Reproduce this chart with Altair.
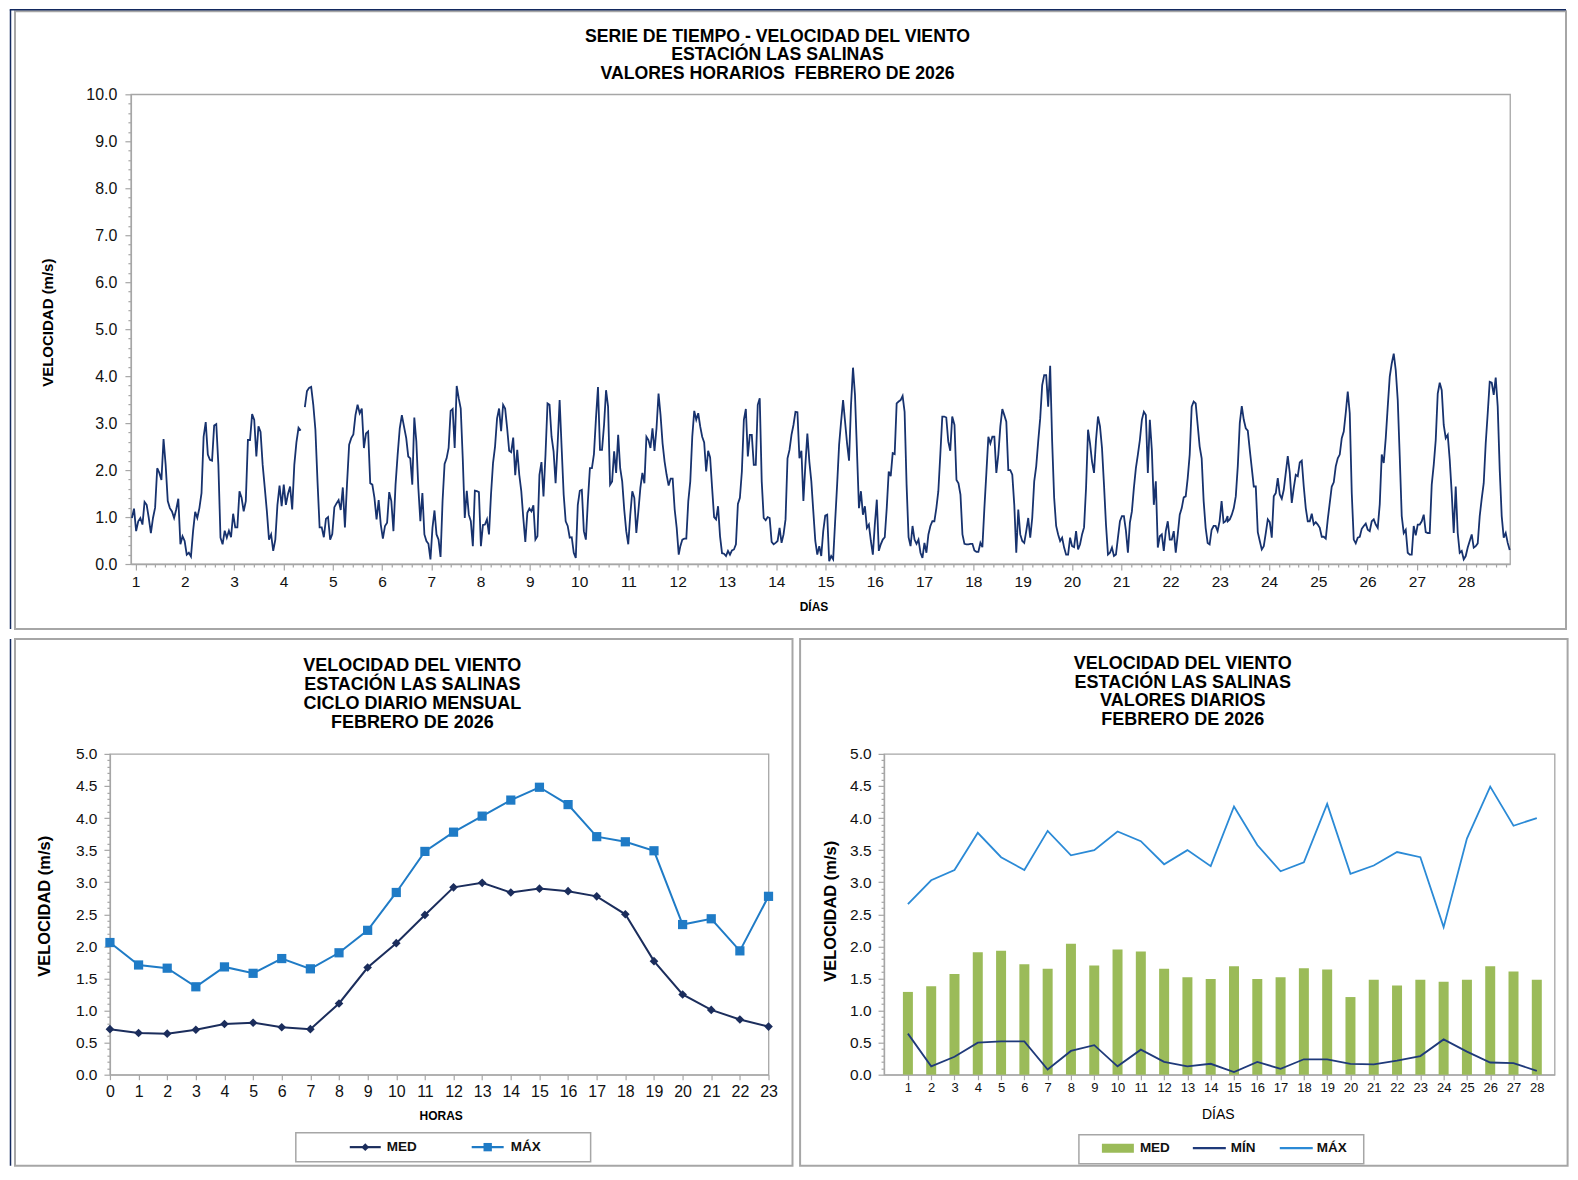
import altair as alt
import numpy as np
import pandas as pd

FONT = "Liberation Sans"
GRAY = "#a6a6a6"
FRAME_NAVY = "#13295e"
LINE_NAVY = "#17326e"
MED_NAVY = "#1b2d5c"
MAX_BLUE = "#1f7bc6"
MIN_NAVY = "#1f3a7a"
MAX_LIGHT = "#2b8ad6"
GREEN = "#9bbb59"

# ---------------- hourly series (in 5 stretches) ----------------
seg1 = [0.98, 1.18, 0.70, 0.91, 0.98, 0.84, 1.32, 1.26, 0.98, 0.66,
        0.98, 1.20, 2.04, 1.94, 1.79, 2.66, 2.11, 1.34, 1.19, 1.12,
        0.98, 1.16, 1.39, 0.42, 0.59, 0.49, 0.20, 0.24, 0.16, 0.70,
        1.11, 0.98, 1.19, 1.51, 2.71, 3.02, 2.33, 2.22, 2.20, 2.95,
        2.98, 2.11, 0.56, 0.42, 0.71, 0.56, 0.71, 0.57, 1.07, 0.78,
        0.78, 1.55, 1.41, 1.12, 1.34, 2.64, 2.64, 3.19, 3.07, 2.29,
        2.93, 2.81, 2.11, 1.62, 1.12, 0.52, 0.63, 0.28, 0.52, 1.26,
        1.67, 1.23, 1.69, 1.26, 1.49, 1.65, 1.16, 2.11, 2.59, 2.90,
        2.84, None, 3.34, 3.68, 3.75, 3.77, 3.39, 2.86, 1.76, 0.78,
        0.78, 0.57, 0.96, 1.00, 0.52, 0.64, 1.21, 1.29, 1.36, 1.15,
        1.63, 0.78, 1.71, 2.54, 2.68, 2.76, 3.17, 3.39, 3.21, 3.31,
        2.47, 2.78, 2.82, 1.72, 1.69, 1.41, 0.95, 1.36, 0.84, 0.54,
        0.81, 0.88, 1.53, 1.34, 0.70, 1.69, 2.33, 2.89, 3.17, 2.93]
seg2 = [2.68, 2.29, 2.25, 1.69, 3.12, 2.61, 1.62, 0.91, 1.51, 0.63,
        0.49, 0.43, 0.10, 0.77, 1.14, 0.63, 0.52, 0.15, 1.34, 2.13,
        2.25, 2.47, 3.26, 3.30, 2.47, 3.79, 3.53, 3.31, 2.25, 0.98,
        1.56, 1.05, 0.91, 0.38, 1.56, 1.55, 1.53, 0.38, 0.83, 0.84,
        0.95, 0.63, 1.48, 2.15, 2.50, 3.10, 3.31, 2.83, 3.39, 3.31,
        2.89, 2.41, 2.38, 2.69, 1.89, 2.43, 1.90, 1.55, 0.98, 0.47,
        1.09, 1.18, 1.12, 1.25, 0.52, 0.59, 1.90, 2.17, 1.44, 2.33,
        3.42, 3.39, 2.71, 2.40, 1.72, 2.54, 3.49, 2.47, 1.48, 0.91,
        0.81, 0.56, 0.57, 0.24, 0.13, 1.26, 1.56, 1.58, 0.70, 0.52,
        1.34, 2.04, 2.04, 2.34, 3.10, 3.77, 2.43, 2.43, 2.96, 3.70,
        3.35, 1.69, 1.76, 2.40, 1.94, 2.75, 2.04, 1.76, 1.16, 0.70,
        0.42, 1.05, 1.55, 1.41, 0.66, 1.12, 1.62, 1.94, 1.72, 2.71,
        2.64, 2.47, 2.89, 2.41, 2.89, 3.63, 3.17, 2.57, 2.18, 1.90,
        1.67, 1.82, 1.82, 1.16, 0.77, 0.20]
seg3 = [0.38, 0.52, 0.54, 0.54, 1.34, 1.76, 2.71, 3.26, 3.07, 3.21,
        2.93, 2.71, 2.59, 1.97, 2.41, 2.27, 1.62, 1.00, 0.95, 1.23,
        0.59, 0.23, 0.22, 0.17, 0.28, 0.20, 0.29, 0.31, 0.42, 1.28,
        1.41, 1.97, 3.07, 3.30, 2.29, 2.75, 2.75, 2.11, 2.11, 3.39,
        3.53, 1.76, 0.98, 0.93, 1.00, 0.98, 0.47, 0.42, 0.45, 0.49,
        0.77, 0.45, 0.63, 0.95, 2.25, 2.43, 2.75, 2.96, 3.24, 3.23,
        2.25, 2.41, 1.34, 2.11, 2.78, 2.18, 1.76, 1.12, 0.49, 0.20,
        0.38, 0.17, 0.70, 1.03, 1.05, 0.06, 0.17, 0.10, 0.91, 1.69,
        2.54, 3.03, 3.49, 3.03, 2.57, 2.20, 3.39, 4.18, 3.60, 2.40,
        1.19, 1.55, 1.05, 1.23, 0.77, 0.84, 0.49, 0.20, 0.84, 1.37,
        0.28, 0.42, 0.52, 0.57, 1.19, 1.97, 1.87, 2.36, 2.34, 3.42,
        3.46, 3.49, 3.58, 3.24, 1.69, 0.57, 0.38, 0.81, 0.52, 0.43,
        0.52, 0.24, 0.13, 0.45, 0.24, 0.63, 0.81, 0.91, 0.91, 1.19,
        1.55, 2.33, 3.14, 3.14, 3.12, 2.61, 2.41, 3.14]
seg4 = [2.96, 1.79, 1.72, 1.48, 0.63, 0.43, 0.42, 0.42, 0.43, 0.43,
        0.29, 0.26, 0.26, 0.45, 0.36, 1.19, 1.94, 2.71, 2.57, 2.71,
        2.71, 1.94, 2.33, 2.93, 3.30, 3.17, 3.03, 2.00, 2.00, 1.90,
        1.26, 0.24, 1.16, 0.63, 0.49, 0.45, 0.70, 0.98, 0.56, 0.98,
        1.76, 2.08, 2.61, 3.10, 3.81, 4.02, 4.02, 3.35, 4.22, 2.61,
        1.41, 0.81, 0.63, 0.49, 0.56, 0.35, 0.20, 0.20, 0.56, 0.38,
        0.36, 0.70, 0.31, 0.42, 0.63, 0.78, 1.62, 2.86, 2.57, 2.18,
        1.94, 2.64, 3.14, 2.93, 2.47, 1.69, 0.84, 0.20, 0.24, 0.35,
        0.17, 0.20, 0.56, 0.91, 1.02, 1.02, 0.71, 0.24, 0.88, 1.12,
        1.62, 2.04, 2.33, 2.64, 3.07, 3.24, 3.17, 1.94, 3.07, 2.43,
        1.26, 1.76, 0.35, 0.59, 0.63, 0.28, 0.70, 0.91, 0.52, 0.52,
        0.70, 0.24, 0.63, 1.05, 1.19, 1.42, 1.44, 1.83, 2.33, 3.35,
        3.46, 3.42, 2.96, 2.50, 2.25, 1.34, 0.77, 0.45, 0.42, 0.73,
        0.81, 0.81, 0.70, 0.91, 1.34, 0.88, 0.91, 1.02]
seg5 = [0.91, 0.95, 1.05, 1.19, 1.44, 2.08, 3.00, 3.36, 3.07, 2.89,
        2.84, 2.43, 2.04, 1.65, 1.65, 0.68, 0.49, 0.31, 0.38, 0.66,
        0.95, 0.89, 0.56, 1.44, 1.51, 1.83, 1.48, 1.39, 1.58, 1.94,
        2.30, 1.94, 1.30, 1.62, 1.90, 1.87, 2.16, 2.20, 1.65, 1.19,
        0.91, 0.91, 1.07, 0.84, 0.89, 0.84, 0.77, 0.58, 0.58, 0.54,
        0.95, 1.30, 1.65, 1.74, 2.08, 2.25, 2.33, 2.68, 2.82, 3.22,
        3.67, 3.21, 1.51, 0.52, 0.44, 0.56, 0.58, 0.75, 0.81, 0.86,
        0.73, 0.70, 0.91, 0.95, 0.84, 0.77, 1.27, 2.33, 2.15, 2.68,
        3.35, 3.99, 4.27, 4.48, 4.13, 3.49, 2.29, 1.02, 0.66, 0.73,
        0.24, 0.20, 0.20, 0.81, 0.61, 0.84, 0.84, 0.91, 1.05, 0.68,
        0.66, 0.66, 1.69, 2.11, 2.64, 3.63, 3.86, 3.70, 2.96, 2.68,
        2.75, 2.22, 1.51, 0.66, 1.65, 0.66, 0.24, 0.28, 0.10, 0.17,
        0.35, 0.49, 0.63, 0.35, 0.38, 0.44, 1.02, 1.39, 1.72, 2.57,
        3.21, 3.88, 3.86, 3.60, 3.97, 3.35, 2.01, 1.02, 0.56, 0.66,
        0.45, 0.30]
segments = [seg1, seg2, seg3, seg4, seg5]
# hour of the month (0..671) at the first and last reading of each stretch
seg_hours = [(0.0, 132.5), (133.6, 266.3), (267.1, 399.5), (400.6, 533.6), (533.7, 671.0)]

# ---------------- monthly daily cycle ----------------
horas = list(range(24))
ciclo_med = [0.71, 0.65, 0.64, 0.70, 0.79, 0.81, 0.74, 0.71, 1.11, 1.67, 2.05, 2.49,
             2.92, 2.99, 2.84, 2.90, 2.86, 2.78, 2.50, 1.77, 1.25, 1.01, 0.86, 0.75]
ciclo_max = [2.06, 1.71, 1.66, 1.37, 1.68, 1.58, 1.81, 1.65, 1.90, 2.25, 2.84, 3.48,
             3.78, 4.03, 4.28, 4.48, 4.21, 3.71, 3.63, 3.49, 2.34, 2.43, 1.93, 2.78]

# ---------------- daily values ----------------
dias = list(range(1, 29))
diario_med = [1.29, 1.38, 1.57, 1.91, 1.93, 1.72, 1.65, 2.04, 1.70, 1.95, 1.92, 1.65, 1.52, 1.49,
              1.69, 1.49, 1.52, 1.66, 1.64, 1.21, 1.48, 1.39, 1.48, 1.45, 1.48, 1.69, 1.61, 1.48]
diario_min = [0.64, 0.13, 0.28, 0.50, 0.52, 0.52, 0.08, 0.37, 0.46, 0.13, 0.39, 0.20, 0.13, 0.17,
              0.04, 0.20, 0.09, 0.24, 0.24, 0.17, 0.16, 0.22, 0.29, 0.55, 0.36, 0.19, 0.18, 0.06]
diario_max = [2.66, 3.03, 3.19, 3.77, 3.39, 3.19, 3.80, 3.42, 3.50, 3.79, 3.64, 3.28, 3.50, 3.25,
              4.18, 3.58, 3.17, 3.31, 4.22, 3.13, 3.26, 3.47, 3.39, 2.30, 3.68, 4.49, 3.88, 4.00]

titulo_top = ["SERIE DE TIEMPO - VELOCIDAD DEL VIENTO", "ESTACIÓN LAS SALINAS",
              "VALORES HORARIOS\u00a0 FEBRERO DE 2026"]
titulo_ciclo = ["VELOCIDAD DEL VIENTO", "ESTACIÓN LAS SALINAS", "CICLO DIARIO MENSUAL",
                "FEBRERO DE 2026"]
titulo_diario = ["VELOCIDAD DEL VIENTO", "ESTACIÓN LAS SALINAS", "VALORES DIARIOS",
                 "FEBRERO DE 2026"]

# ---------------- tables ----------------
rows = []
for seg, (h0, h1) in zip(segments, seg_hours):
    for h, v in zip(np.linspace(h0, h1, len(seg)), seg):
        rows.append((h, v))
hdf = pd.DataFrame(rows, columns=["hora", "vel"])
hdf["vel"] = pd.to_numeric(hdf["vel"])
hdf["dia"] = 1 + (hdf["hora"] - 1.8) / 24.0
hdf["tramo"] = hdf["vel"].isna().cumsum()
hdf = hdf.dropna()

cdf = pd.DataFrame({"hora": horas * 2, "valor": ciclo_med + ciclo_max,
                    "serie": ["MED"] * 24 + ["MÁX"] * 24})
ddf = pd.DataFrame({"dia": dias * 3, "valor": diario_med + diario_min + diario_max,
                    "serie": ["MED"] * 28 + ["MÍN"] * 28 + ["MÁX"] * 28})

one = pd.DataFrame({"k": [0]})


def box(x0, x1, y0, y1, color=GRAY, sw=2.0):
    return alt.Chart(one).mark_rect(filled=False, stroke=color, strokeWidth=sw).encode(
        x=alt.value(x0), x2=alt.value(x1), y=alt.value(y0), y2=alt.value(y1))


def hrule(x0, x1, y, color, sw):
    return alt.Chart(one).mark_rule(color=color, strokeWidth=sw).encode(
        x=alt.value(x0), x2=alt.value(x1), y=alt.value(y))


def vrule(x, y0, y1, color, sw):
    return alt.Chart(one).mark_rule(color=color, strokeWidth=sw).encode(
        x=alt.value(x), y=alt.value(y0), y2=alt.value(y1))


def text(txt, x, y, size, weight="bold", align="center", font=FONT, color="#000000"):
    return alt.Chart(one).mark_text(text=txt, fontSize=size, fontWeight=weight, font=font,
                                    align=align, baseline="middle", color=color).encode(
        x=alt.value(x), y=alt.value(y))


def title_block(lines, cx, y0, lh, size):
    return [text(t, cx, y0 + i * lh, size) for i, t in enumerate(lines)]


def major(step):
    return f"abs(datum.value/{step} - round(datum.value/{step})) < 0.001"


def tick_size(step, big=6, small=3):
    return {"condition": {"test": major(step), "value": big}, "value": small}


# ================= TOP PANEL (plot origin at page 130,94) =================
TW, TH = 1380, 470
x_top_vals = [round(1 + 0.2 * k, 1) for k in range(140)]
y_top_vals = [round(0.2 * k, 1) for k in range(51)]
line_top = alt.Chart(hdf).mark_line(color=LINE_NAVY, strokeWidth=1.8).encode(
    x=alt.X("dia:Q", scale=alt.Scale(domain=[0.905, 28.89], nice=False, zero=False),
            axis=alt.Axis(values=x_top_vals, labelExpr=f"{major(1)} ? format(datum.value, 'd') : ''",
                          tickSize=tick_size(1), labelFontSize=15.5, labelPadding=4.5,
                          title="DÍAS", titleFontSize=12, titleFontWeight="bold",
                          titleX=683, titleY=43, titleBaseline="middle")),
    y=alt.Y("vel:Q", scale=alt.Scale(domain=[0, 10], nice=False),
            axis=alt.Axis(values=y_top_vals, labelExpr=f"{major(1)} ? format(datum.value, '.1f') : ''",
                          tickSize=tick_size(1), labelFontSize=16, labelPadding=8,
                          title="VELOCIDAD (m/s)", titleFontSize=15, titleFontWeight="bold",
                          titleX=-83, titleY=228, titleBaseline="middle", titleAlign="center")),
    detail="tramo:N",
)
top = alt.layer(
    box(-116, 1436, -83, 535),
    hrule(-121.25, 1436, -84.5, FRAME_NAVY, 1.5),
    vrule(-120.5, -84.5, 535, FRAME_NAVY, 1.5),
    *title_block(titulo_top, 777 - 130, 36.5 - 94, 18.6, 17.7),
    line_top,
).properties(width=TW, height=TH)

spacer = alt.Chart(one).mark_point(opacity=0).encode(
    x=alt.value(0), y=alt.value(0)
).properties(width=21, height=TH, view=alt.ViewBackground(stroke="transparent"))

# ================= BOTTOM LEFT (plot origin at page 109,754) =================
BW1, BH = 659, 321
y_bot_vals = [round(0.1 * k, 1) for k in range(51)]


def y_bottom(title_x, title_y):
    return alt.Y("valor:Q", scale=alt.Scale(domain=[0, 5], nice=False),
                 axis=alt.Axis(values=y_bot_vals,
                               labelExpr=f"{major(0.5)} ? format(datum.value, '.1f') : ''",
                               tickSize=tick_size(0.5), labelFontSize=15.5,
                               labelPadding=7,
                               title="VELOCIDAD (m/s)", titleFontSize=16.5, titleFontWeight="bold",
                               titleX=title_x, titleY=title_y, titleBaseline="middle",
                               titleAlign="center"))


x_hora = alt.X("hora:Q", scale=alt.Scale(domain=[0, 23], nice=False, zero=False),
               axis=alt.Axis(values=horas, format="d", tickSize=5, labelFontSize=16,
                             labelPadding=4,
                             title="HORAS", titleFontSize=12, titleFontWeight="bold",
                             titleX=331, titleY=41, titleBaseline="middle"))
yb1 = y_bottom(-65, 152)


def ciclo_layers(serie, color, shape, size):
    base = alt.Chart(cdf).transform_filter(alt.datum.serie == serie)
    ln = base.mark_line(color=color, strokeWidth=2).encode(x=x_hora, y=yb1)
    pt = base.mark_point(filled=True, color=color, shape=shape, size=size, opacity=1).encode(
        x=x_hora, y=yb1)
    return [ln, pt]


def legend_line_entry(x0, x1, y, color, label, tx, shape=None, size=60):
    parts = [hrule(x0, x1, y, color, 2.2)]
    if shape:
        parts.append(alt.Chart(one).mark_point(filled=True, color=color, shape=shape, size=size,
                                               opacity=1).encode(x=alt.value((x0 + x1) / 2),
                                                                 y=alt.value(y)))
    parts.append(text(label, tx, y, 13.5, align="left", color="#111111"))
    return parts


bl = alt.layer(
    box(-95, 683, -115, 412),
    vrule(-99.5, -115, 412, FRAME_NAVY, 1.5),
    *title_block(titulo_ciclo, 411.6 - 109, 666 - 754, 18.9, 18),
    *ciclo_layers("MED", MED_NAVY, "diamond", 75),
    *ciclo_layers("MÁX", MAX_BLUE, "square", 85),
    box(186, 481, 379, 408, sw=1.5),
    *legend_line_entry(240, 271, 393.5, MED_NAVY, "MED", 277, "diamond", 60),
    *legend_line_entry(362, 394, 393.5, MAX_BLUE, "MÁX", 401, "square", 70),
).properties(width=BW1, height=BH)

# ================= BOTTOM RIGHT (plot origin at page 883.6,754) =================
BW2 = 671
x_dia = alt.X("dia:Q", scale=alt.Scale(domain=[0.19, 28.55], nice=False, zero=False),
              axis=alt.Axis(values=dias, format="d", tickSize=5, labelFontSize=13,
                            labelPadding=2,
                            title="DÍAS", titleFontSize=14, titleFontWeight="normal",
                            titleX=334, titleY=40, titleBaseline="middle"))
yb2 = y_bottom(-54, 157)
dbase = alt.Chart(ddf)
bars = dbase.transform_filter(alt.datum.serie == "MED").mark_bar(size=10, color=GREEN).encode(
    x=x_dia, y=yb2)
lmin = dbase.transform_filter(alt.datum.serie == "MÍN").mark_line(
    color=MIN_NAVY, strokeWidth=1.8).encode(x=x_dia, y=yb2)
lmax = dbase.transform_filter(alt.datum.serie == "MÁX").mark_line(
    color=MAX_LIGHT, strokeWidth=1.8).encode(x=x_dia, y=yb2)

green_key = alt.Chart(one).mark_rect(color=GREEN).encode(
    x=alt.value(218), x2=alt.value(250), y=alt.value(390), y2=alt.value(399))
br = alt.layer(
    box(-84, 684, -115, 412),
    *title_block(titulo_diario, 1182.5 - 883.6, 664 - 754, 18.6, 18),
    bars, lmin, lmax,
    box(195, 480, 381, 410, sw=1.5),
    green_key,
    text("MED", 256, 394.5, 13.5, align="left", color="#111111"),
    *legend_line_entry(309, 342, 394.5, MIN_NAVY, "MÍN", 347),
    *legend_line_entry(396, 429, 394.5, MAX_LIGHT, "MÁX", 433),
).properties(width=BW2, height=BH)

row1 = alt.hconcat(spacer, top, spacing=0, bounds="flush")
row2 = alt.hconcat(bl, br, spacing=115.6, bounds="flush")
# with flush bounds the nested first row counts as zero height: spacing = 470 + 190
chart = alt.vconcat(row1, row2, spacing=660, bounds="flush").properties(
    padding=0, background="white"
).configure_view(stroke=GRAY, strokeWidth=1.3).configure_axis(
    domainColor=GRAY, tickColor=GRAY, labelColor="#111111", titleColor="#000000",
    labelFont=FONT, titleFont=FONT, grid=False, labelFlush=False, labelOverlap=False,
    domainWidth=1.3, tickWidth=1.2,
)

chart.save("out.html", embed_options={"renderer": "svg", "actions": False})
